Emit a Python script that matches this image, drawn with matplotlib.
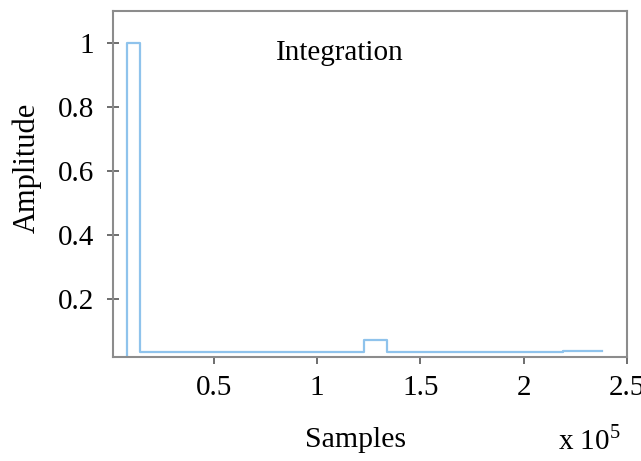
# Integration output plot
import matplotlib.pyplot as plt
import numpy as np

plt.rcParams['font.family'] = ['Liberation Serif', 'DejaVu Serif']

# step signal (samples, amplitude)
samples = [0, 7900, 7900, 14200, 14200, 40000, 40000, 122600, 122600, 133800,
           133800, 200000, 200000, 219000, 219000, 238000]
amplitude = [0, 0, 1.0, 1.0, 0.035, 0.035, 0.034, 0.034, 0.072, 0.072,
             0.034, 0.034, 0.035, 0.035, 0.038, 0.038]

y_ticks = [0.2, 0.4, 0.6, 0.8, 1.0]
y_tick_labels = ['0.2', '0.4', '0.6', '0.8', '1']
x_ticks = [50000, 100000, 150000, 200000, 250000]
x_tick_labels = ['0.5', '1', '1.5', '2', '2.5']

fig = plt.figure(figsize=(6.41, 4.61), dpi=100)
ax = fig.add_axes([0.177, 0.226, 0.801, 0.75])
ax.plot(samples, amplitude, color='#8fc3ec', linewidth=1.6)

ax.set_xlim(1500, 250000)
ax.set_ylim(0.019, 1.1)
ax.set_xticks(x_ticks)
ax.set_xticklabels(x_tick_labels)
ax.set_yticks(y_ticks)
ax.set_yticklabels(y_tick_labels)

for side in ['top', 'bottom', 'left', 'right']:
    ax.spines[side].set_color('#8c8c8c')
    ax.spines[side].set_linewidth(1.5)
ax.tick_params(axis='x', direction='out', length=5, width=1.2,
               color='#555555', labelsize=21, pad=8)
ax.tick_params(axis='y', direction='inout', length=8, width=1.2,
               color='#555555', labelsize=21, pad=10)

ax.text(0.44, 0.88, 'Integration', transform=ax.transAxes, fontsize=21,
        ha='center', va='center')
fig.text(0.554, 0.045, 'Samples', fontsize=21.5, ha='center', va='center')
fig.text(0.92, 0.045, r'x 10$^{\mathregular{5}}$', fontsize=21,
         ha='center', va='center')
fig.text(0.042, 0.636, 'Amplitude', fontsize=22, rotation=90,
         ha='center', va='center')

fig.savefig('out.png', dpi=100)
